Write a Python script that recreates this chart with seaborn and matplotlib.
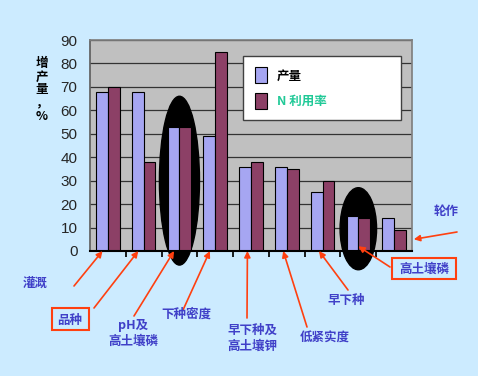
import matplotlib
matplotlib.use("Agg")
import matplotlib.pyplot as plt
import seaborn as sns
import pandas as pd
from matplotlib.patches import Ellipse, Rectangle

categories = ["灌溉", "品种", "pH及\n高土壤磷", "下种密度", "早下种及\n高土壤钾",
              "低紧实度", "早下种", "高土壤磷", "轮作"]
yield_inc = [68, 68, 53, 49, 36, 36, 25, 15, 14]
n_use = [70, 38, 53, 85, 38, 35, 30, 14, 9]
series_names = ["产量", "N 利用率"]
yticks = [0, 10, 20, 30, 40, 50, 60, 70, 80, 90]

df = pd.DataFrame({
    "cat": categories * 2,
    "val": yield_inc + n_use,
    "series": [series_names[0]] * len(categories) + [series_names[1]] * len(categories),
})

sns.set_theme(style="white")
plt.rcParams['font.family'] = ['Noto Sans CJK SC', 'DejaVu Sans']

W, H = 478, 376
fig = plt.figure(figsize=(W / 100, H / 100), dpi=100)
fig.patch.set_facecolor("#CCEBFF")

def fx(x):
    return x / W

def fy(y):
    return 1 - y / H

ax = fig.add_axes([fx(90), fy(251), (412 - 90) / W, (251 - 40) / H])
ax.set_facecolor("#C0C0C0")

sns.barplot(data=df, x="cat", y="val", hue="series", order=categories,
            palette=["#9999FF", "#993366"], width=0.66, edgecolor="black",
            linewidth=0.8, ax=ax, zorder=3)

ax.set_ylim(0, 90)
ax.set_xlim(-0.5, len(categories) - 0.5)
ax.set_yticks(yticks)
ax.set_yticklabels([str(t) for t in yticks], fontsize=11, family=['Liberation Sans'])
ax.tick_params(axis="y", pad=9, length=0)
ax.set_xticks([i + 0.5 for i in range(len(categories) - 1)])
ax.set_xticklabels([])
ax.tick_params(axis="x", length=4, color="black", direction="out", bottom=True)
ax.set_xlabel("")
ax.set_ylabel("")
ax.yaxis.grid(True, color="#333333", linewidth=0.9, zorder=0)
ax.set_axisbelow(True)
for s in ["top", "right"]:
    ax.spines[s].set_color("#808080")
ax.spines["left"].set_color("#606060")
ax.spines["bottom"].set_color("black")
ax.spines["bottom"].set_linewidth(1.5)

# legend
handles, labels = ax.get_legend_handles_labels()
leg = ax.legend(handles, labels, loc="upper left",
                bbox_to_anchor=(0.457, 0.67, 0.527, 0.283),
                frameon=True, fancybox=False, edgecolor="#404040", facecolor="white",
                framealpha=1, prop={'weight': 'bold', 'size': 9},
                borderpad=0.9, handlelength=1.0, handleheight=1.6, labelspacing=0.75,
                mode="expand")
leg.get_frame().set_linewidth(1.0)
txts = leg.get_texts()
txts[0].set_color("black")
txts[1].set_color("#20C997")
leg.set_zorder(10)

# ellipses
ax.add_patch(Ellipse((2, 30), 1.12, 72, facecolor="black", edgecolor="black", zorder=1.5, clip_on=False))
ax.add_patch(Ellipse((7, 9.5), 1.02, 35, facecolor="black", edgecolor="black", zorder=1.5, clip_on=False))
ax.spines["bottom"].set_zorder(4)

label_color = "#4040C8"
arrow_color = "#FF4010"
label_pos = [(35, 283), (70, 320), (133, 333), (186, 314), (252, 338),
             (325, 338), (346, 300), (424, 269), (446, 212)]
arrow_start = [(74, 286), (94, 308), (134, 316), (183, 310), (247, 318),
               (307, 327), (348, 290), (390, 267), (457, 232)]
arrow_end_y = [0, 0, 0, 0, 0, 0, 0, 2, 5]
arrow_end_dx = [-0.15, -0.15, -0.15, -0.15, -0.1, -0.1, -0.1, 0.0, 0.55]

for i, cat in enumerate(categories):
    tx, ty = label_pos[i]
    fig.text(fx(tx), fy(ty), cat, ha="center", va="center", fontsize=9,
             fontweight="bold", color=label_color, linespacing=1.3)
    sx, sy = arrow_start[i]
    ax.annotate("", xy=(i + arrow_end_dx[i], arrow_end_y[i]), xycoords="data",
                xytext=(fx(sx), fy(sy)), textcoords="figure fraction",
                arrowprops=dict(arrowstyle="-|>", color=arrow_color, lw=1.2,
                                mutation_scale=9, shrinkA=0, shrinkB=0),
                annotation_clip=False, zorder=6)

# red boxes
fig.add_artist(Rectangle((fx(52), fy(330)), fx(89) - fx(52), fy(308) - fy(330),
                         transform=fig.transFigure, facecolor="none",
                         edgecolor=arrow_color, linewidth=1.5))
fig.add_artist(Rectangle((fx(392), fy(279)), fx(456) - fx(392), fy(258) - fy(279),
                         transform=fig.transFigure, facecolor="none",
                         edgecolor=arrow_color, linewidth=1.5))

# y label (vertical stacked)
fig.text(fx(42), fy(90), "增\n产\n量\n，\n%", ha="center", va="center",
         fontsize=9, fontweight="bold", color="black", linespacing=1.0)

fig.savefig("out.png", dpi=100, facecolor=fig.get_facecolor())
